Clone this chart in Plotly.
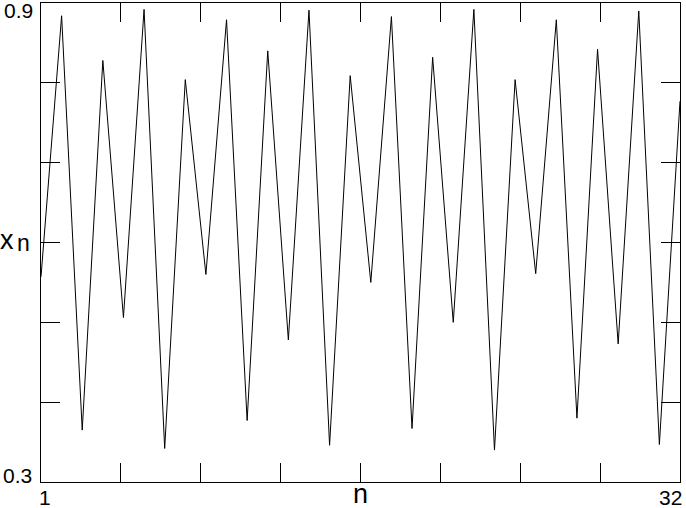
import plotly.graph_objects as go

n_values = list(range(1, 33))
x_values = [0.557, 0.884, 0.365, 0.828, 0.506, 0.892, 0.342, 0.804,
            0.560, 0.879, 0.377, 0.840, 0.478, 0.891, 0.346, 0.809,
            0.550, 0.883, 0.367, 0.832, 0.500, 0.892, 0.340, 0.804,
            0.561, 0.879, 0.380, 0.842, 0.473, 0.890, 0.347, 0.777]

x_ticks = [1 + 31 / 8 * k for k in range(1, 8)]
y_ticks = [0.4, 0.5, 0.6, 0.7, 0.8]

FONT = "Liberation Sans, Arial, sans-serif"

fig = go.Figure()
fig.add_trace(go.Scatter(x=n_values, y=x_values, mode="lines",
                         line=dict(color="black", width=1), hoverinfo="skip"))

axis_common = dict(showgrid=False, zeroline=False, showline=True, linecolor="black",
                   linewidth=1, mirror="ticks", ticks="inside", ticklen=19,
                   tickcolor="black", tickwidth=1, showticklabels=False)

fig.update_xaxes(range=[1, 32], tickvals=x_ticks, **axis_common)
fig.update_yaxes(range=[0.3, 0.9], tickvals=y_ticks, **axis_common)

ann = []
ann.append(dict(text="0.9", x=0, xref="paper", y=0.9, yref="y", xanchor="right",
                yanchor="middle", xshift=-6, yshift=-7, showarrow=False,
                font=dict(size=21, color="black", family=FONT)))
ann.append(dict(text="0.3", x=0, xref="paper", y=0.3, yref="y", xanchor="right",
                yanchor="middle", xshift=-7, yshift=7, showarrow=False,
                font=dict(size=21, color="black", family=FONT)))
ann.append(dict(text="1", x=1, xref="x", y=0, yref="paper", xanchor="center",
                yanchor="middle", xshift=4, yshift=-15, showarrow=False,
                font=dict(size=21, color="black", family=FONT)))
ann.append(dict(text="32", x=32, xref="x", y=0, yref="paper", xanchor="right",
                yanchor="middle", xshift=4, yshift=-15, showarrow=False,
                font=dict(size=21, color="black", family=FONT)))
ann.append(dict(text="n", x=0.5, xref="paper", y=0, yref="paper", xanchor="center",
                yanchor="middle", xshift=0, yshift=-12, showarrow=False,
                font=dict(size=27, color="black", family=FONT)))
ann.append(dict(text="x", x=0, xref="paper", y=0.6, yref="y", xanchor="left",
                yanchor="middle", xshift=-43, yshift=3, showarrow=False,
                font=dict(size=27, color="black", family=FONT)))
ann.append(dict(text="n", x=0, xref="paper", y=0.6, yref="y", xanchor="left",
                yanchor="middle", xshift=-26, yshift=0, showarrow=False,
                font=dict(size=23, color="black", family=FONT)))

fig.update_layout(width=686, height=508, margin=dict(l=41, r=6, t=3, b=26),
                  paper_bgcolor="white", plot_bgcolor="white", showlegend=False,
                  annotations=ann)

fig.write_html("out.html", config={"displayModeBar": False},
               post_script="document.body.style.margin='0px';document.body.style.overflow='hidden';")
